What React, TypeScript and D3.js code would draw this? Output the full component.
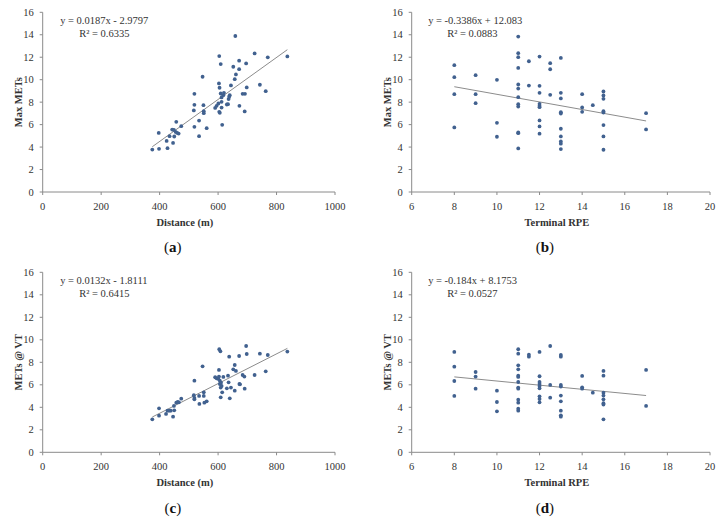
import React from "react";
import * as d3 from "d3";

// Panel (a): Distance vs Max METs
const distA = [375, 398, 427, 397, 424, 434, 446, 450, 449, 455, 460, 457, 465, 474, 443, 519, 519, 517, 519, 535, 535, 547, 550, 551, 551, 561, 590, 595, 601, 604, 603, 605, 604, 606, 609, 609, 612, 612, 612, 614, 618, 620, 659, 652, 657, 661, 644, 630, 636, 638, 640, 634, 672, 672, 673, 684, 692, 691, 696, 698, 725, 743, 763, 770, 837];
const maxMetsA = [3.78, 3.84, 3.9, 5.26, 4.55, 4.97, 4.37, 4.94, 5.53, 5.35, 5.26, 6.25, 5.2, 5.86, 5.56, 8.74, 7.76, 7.26, 5.8, 6.36, 4.97, 10.26, 7.73, 7.2, 7.02, 5.68, 7.49, 7.67, 7.88, 12.1, 9.67, 9.28, 7.14, 7.05, 11.39, 8.77, 8.42, 8.03, 7.52, 5.98, 8.62, 8.83, 13.89, 11.15, 10.05, 10.47, 9.49, 7.79, 8.27, 8.48, 8.62, 7.82, 11.69, 10.94, 7.67, 8.74, 8.74, 7.17, 11.45, 9.31, 12.34, 9.55, 8.98, 11.99, 12.07];

// Panel (b): Terminal RPE vs Max METs
const rpeB = [8, 8, 8, 8, 9, 9, 9, 10, 10, 10, 11, 11, 11, 11, 11, 11, 11, 11, 11, 11, 11, 11, 11.5, 11.5, 12, 12, 12, 12, 12, 12, 12, 12, 12, 12.5, 12.5, 12.5, 13, 13, 13, 13, 13, 13, 13, 13, 13, 13, 14, 14, 14, 14.5, 15, 15, 15, 15, 15, 15, 15, 15, 17, 17];
const maxMetsB = [11.29, 10.22, 8.71, 5.75, 10.4, 8.71, 7.91, 9.99, 6.16, 4.92, 13.84, 12.36, 12.0, 11.05, 9.57, 9.21, 8.44, 7.82, 7.61, 5.3, 5.24, 3.88, 11.64, 9.48, 12.06, 9.45, 8.83, 7.85, 7.67, 7.55, 6.37, 5.84, 5.19, 11.47, 10.93, 8.65, 11.94, 8.83, 8.33, 7.11, 6.99, 5.63, 4.95, 4.5, 4.3, 3.82, 8.71, 7.53, 7.14, 7.73, 8.95, 8.59, 8.3, 7.2, 7.08, 5.96, 4.95, 3.76, 7.02, 5.57];

// Panel (c): Distance vs METs @ VT
const distC = [375, 398, 398, 422, 427, 433, 438, 446, 450, 449, 457, 462, 466, 474, 519, 517, 519, 519, 535, 536, 547, 551, 551, 553, 561, 590, 595, 601, 604, 608, 603, 603, 606, 606, 610, 609, 612, 614, 609, 618, 634, 630, 636, 640, 638, 644, 652, 657, 661, 657, 672, 673, 675, 684, 690, 691, 696, 698, 725, 743, 763, 770, 837];
const metsVtC = [2.93, 3.91, 3.26, 3.41, 3.7, 3.7, 3.7, 3.17, 3.73, 4.12, 4.41, 4.47, 4.44, 4.77, 6.37, 5.07, 4.83, 4.71, 5.01, 4.3, 7.64, 5.33, 5.01, 4.41, 4.53, 6.67, 6.58, 6.52, 9.16, 8.98, 7.32, 6.73, 6.37, 6.07, 6.19, 5.75, 5.9, 5.33, 4.89, 6.7, 6.81, 5.69, 6.22, 4.8, 8.5, 5.75, 7.38, 7.76, 7.23, 5.48, 8.56, 6.07, 6.04, 6.87, 6.73, 5.66, 9.45, 8.74, 6.87, 8.77, 7.2, 8.65, 8.95];

// Panel (d): Terminal RPE vs METs @ VT
const rpeD = [8, 8, 8, 8, 9, 9, 9, 10, 10, 10, 11, 11, 11, 11, 11, 11, 11, 11, 11, 11, 11, 11, 11, 11.5, 11.5, 12, 12, 12, 12, 12, 12, 12, 12, 12, 12.5, 12.5, 12.5, 13, 13, 13, 13, 13, 13, 13, 13, 13, 14, 14, 14, 14.5, 15, 15, 15, 15, 15, 15, 15, 15, 17, 17];
const metsVtD = [8.92, 7.61, 6.34, 5.01, 7.14, 6.73, 5.66, 5.48, 4.47, 3.64, 9.16, 8.77, 7.73, 7.38, 6.81, 6.7, 6.25, 5.75, 5.66, 4.68, 4.41, 3.88, 3.7, 8.68, 8.5, 8.92, 6.76, 6.25, 6.07, 5.9, 5.69, 4.98, 4.74, 4.44, 9.45, 5.99, 4.86, 8.65, 8.5, 5.99, 5.84, 5.04, 4.53, 3.7, 3.29, 3.17, 6.79, 5.78, 5.66, 5.3, 7.23, 6.81, 5.3, 5.04, 4.71, 4.36, 4.24, 2.93, 7.32, 4.12];

const distanceTicks = [0, 200, 400, 600, 800, 1000];
const rpeTicks = [6, 8, 10, 12, 14, 16, 18, 20];
const metTicks = [0, 2, 4, 6, 8, 10, 12, 14, 16];

const slopes = [0.0187, -0.3386, 0.0132, -0.184];
const intercepts = [-2.9797, 12.083, -1.8111, 8.1753];
const equations = ["y = 0.0187x - 2.9797", "y = -0.3386x + 12.083", "y = 0.0132x - 1.8111", "y = -0.184x + 8.1753"];
const r2Labels = ["R² = 0.6335", "R² = 0.0883", "R² = 0.6415", "R² = 0.0527"];
const xTitles = ["Distance (m)", "Terminal RPE", "Distance (m)", "Terminal RPE"];
const yTitles = ["Max METs", "Max METs", "METs @ VT", "METs @ VT"];
const panelLetters = ["a", "b", "c", "d"];

const FONT = "'Liberation Serif', 'DejaVu Serif', serif";
const AXIS = "#8a8a8a";
const DOT = "#41618f";

type PanelProps = {
  idx: number;
  left: number;
  right: number;
  top: number;
  bottom: number;
  xs: number[];
  ys: number[];
  xTicks: number[];
};

function Panel({ idx, left, right, top, bottom, xs, ys, xTicks }: PanelProps) {
  const x = d3.scaleLinear().domain([xTicks[0], xTicks[xTicks.length - 1]]).range([left, right]);
  const y = d3.scaleLinear().domain([0, 16]).range([bottom, top]);
  const [xmin, xmax] = d3.extent(xs) as [number, number];
  const line = d3.line<number>().x((v) => x(v)).y((v) => y(slopes[idx] * v + intercepts[idx]));
  const cx = (left + right) / 2;
  const eqX = idx % 2 === 0 ? left + 17.5 : left + 16.5;
  return (
    <g fontFamily={FONT}>
      {/* axes */}
      <line x1={left} x2={left} y1={top} y2={bottom} stroke={AXIS} strokeWidth={1} />
      <line x1={left} x2={right} y1={bottom} y2={bottom} stroke={AXIS} strokeWidth={1} />
      {metTicks.map((t) => (
        <g key={"y" + t}>
          <line x1={left - 3} x2={left} y1={y(t)} y2={y(t)} stroke={AXIS} />
          <text x={left - 9} y={y(t)} dy="0.35em" textAnchor="end" fontSize={10.5} fill="#333">
            {t}
          </text>
        </g>
      ))}
      {xTicks.map((t) => (
        <g key={"x" + t}>
          <line x1={x(t)} x2={x(t)} y1={bottom} y2={bottom + 3} stroke={AXIS} />
          <text x={x(t)} y={bottom + 14.5} dy="0.35em" textAnchor="middle" fontSize={10.5} fill="#333">
            {t}
          </text>
        </g>
      ))}
      {/* trendline */}
      <path d={line([xmin, xmax]) || ""} stroke="#8c8c8c" strokeWidth={1} fill="none" />
      {/* points */}
      {xs.map((v, i) => (
        <circle key={i} cx={x(v)} cy={y(ys[i])} r={1.9} fill={DOT} />
      ))}
      {/* equation */}
      <text x={eqX} y={top + 8} dy="0.35em" fontSize={10.5} fill="#333">
        {equations[idx]}
      </text>
      <text x={eqX + 19} y={top + 21.5} dy="0.35em" fontSize={10.5} fill="#333">
        {r2Labels[idx]}
      </text>
      {/* titles */}
      <text x={cx - 4} y={bottom + 30} dy="0.35em" textAnchor="middle" fontSize={10.5} fontWeight="bold" fill="#333">
        {xTitles[idx]}
      </text>
      <text
        transform={`translate(${left - 24},${(top + bottom) / 2}) rotate(-90)`}
        textAnchor="middle"
        dy="0.35em"
        fontSize={10.5}
        fontWeight="bold"
        fill="#333"
      >
        {yTitles[idx]}
      </text>
      <text x={cx - 16} y={bottom + 55} dy="0.35em" textAnchor="middle" fontSize={15} fill="#111">
        (<tspan fontWeight="bold">{panelLetters[idx]}</tspan>)
      </text>
    </g>
  );
}

export default function App() {
  return (
    <svg
      width={720}
      height={524}
      style={{ position: "absolute", left: 0, top: 0, background: "#fff" }}
    >
      <rect width={720} height={524} fill="#fff" />
      <Panel idx={0} left={42.7} right={335} top={12.3} bottom={192} xs={distA} ys={maxMetsA} xTicks={distanceTicks} />
      <Panel idx={1} left={411.7} right={710} top={12.3} bottom={192} xs={rpeB} ys={maxMetsB} xTicks={rpeTicks} />
      <Panel idx={2} left={42.7} right={335} top={272.3} bottom={452.3} xs={distC} ys={metsVtC} xTicks={distanceTicks} />
      <Panel idx={3} left={411.7} right={710} top={272.3} bottom={452.3} xs={rpeD} ys={metsVtD} xTicks={rpeTicks} />
    </svg>
  );
}
